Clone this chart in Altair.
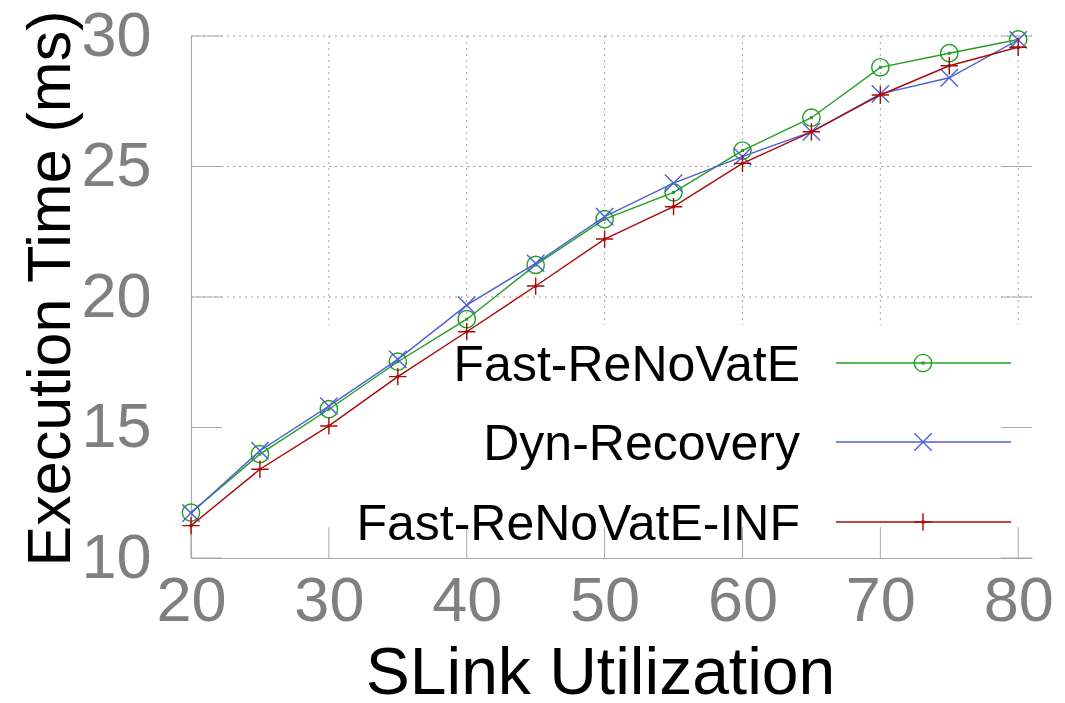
import altair as alt
import pandas as pd

# ---- data ----
x_vals = [20, 25, 30, 35, 40, 45, 50, 55, 60, 65, 70, 75, 80]
fast_renovate = [11.74, 13.98, 15.70, 17.52, 19.15, 21.23, 22.98, 24.01, 25.61, 26.87, 28.80, 29.34, 29.87]
dyn_recovery = [11.72, 14.11, 15.82, 17.61, 19.69, 21.29, 23.08, 24.36, 25.38, 26.33, 27.78, 28.40, 29.85]
fast_renovate_inf = [11.24, 13.40, 15.06, 16.95, 18.67, 20.42, 22.22, 23.46, 25.12, 26.33, 27.74, 28.86, 29.57]

series_names = ["Fast-ReNoVatE", "Dyn-Recovery", "Fast-ReNoVatE-INF"]
series_values = [fast_renovate, dyn_recovery, fast_renovate_inf]
series_colors = ["#1fa01f", "#4f5fd8", "#a80a0a"]

x_ticks = [20, 30, 40, 50, 60, 70, 80]
y_ticks = [10, 15, 20, 25, 30]
x_grid = [30, 40, 50, 60, 70, 80]
y_grid = [20, 25, 30]

# ---- layout / style ----
W, H = 841, 522
FONT = "Liberation Sans"
AXIS_GRAY = "#a8a8a8"
LABEL_GRAY = "#808080"
TICK_LEN = 31
GRID_BOTTOM = 289          # key box hides the grid below this pixel row
LEGEND_ROWS = [327, 406, 486]
LEGEND_TEXT_X = 609
LEGEND_LINE_X = (645, 820)
LEGEND_SYM_X = 732

CIRCLE = "circle"
XSHAPE = "M-1,-1L1,1M-1,1L1,-1"
PLUS = "M-1,0L1,0M0,-1L0,1"
series_shapes = [CIRCLE, XSHAPE, PLUS]
series_dot = [True, False, True]

xs = alt.Scale(domain=[20, 81], nice=False, zero=False)
ys = alt.Scale(domain=[10, 30], nice=False, zero=False)

x_axis = alt.Axis(
    values=x_ticks, title="SLink Utilization", ticks=False, grid=False,
    domainColor=AXIS_GRAY, domainWidth=1.2,
    labelFont=FONT, labelFontSize=63, labelColor=LABEL_GRAY, labelPadding=12,
    labelFlush=False, labelOverlap=False,
    titleFont=FONT, titleFontSize=66, titleFontWeight="normal", titleColor="black",
    titleX=409, titleY=135, titleBaseline="alphabetic", titleAlign="center",
)
y_axis = alt.Axis(
    values=y_ticks, title="Execution Time (ms)", ticks=False, grid=False,
    domainColor=AXIS_GRAY, domainWidth=1.2,
    labelFont=FONT, labelFontSize=63, labelColor=LABEL_GRAY, labelPadding=40,
    labelFlush=False, labelOverlap=False,
    titleFont=FONT, titleFontSize=61, titleFontWeight="normal", titleColor="black",
    titleAngle=270, titleX=-122, titleY=252, titleBaseline="alphabetic", titleAlign="center",
)


def X(field):
    return alt.X(field, scale=xs, axis=x_axis)


def Y(field):
    return alt.Y(field, scale=ys, axis=y_axis)


layers = []

# grid (dotted)
layers.append(
    alt.Chart(pd.DataFrame({"v": x_grid})).mark_rule(
        color="#a0a0a0", strokeDash=[2, 4], strokeWidth=1
    ).encode(x=X("v:Q"), y=alt.value(0), y2=alt.value(GRID_BOTTOM))
)
layers.append(
    alt.Chart(pd.DataFrame({"v": y_grid})).mark_rule(
        color="#a0a0a0", strokeDash=[2, 4], strokeWidth=1
    ).encode(y=Y("v:Q"), x=alt.value(0), x2=alt.value(W))
)

# inward ticks
layers.append(
    alt.Chart(pd.DataFrame({"v": x_ticks})).mark_rule(color=AXIS_GRAY, strokeWidth=1).encode(
        x=X("v:Q"), y=alt.value(H), y2=alt.value(H - TICK_LEN)
    )
)
layers.append(
    alt.Chart(pd.DataFrame({"v": y_ticks})).mark_rule(color=AXIS_GRAY, strokeWidth=1).encode(
        y=Y("v:Q"), x=alt.value(0), x2=alt.value(TICK_LEN)
    )
)
layers.append(
    alt.Chart(pd.DataFrame({"v": y_ticks})).mark_rule(color=AXIS_GRAY, strokeWidth=1).encode(
        y=Y("v:Q"), x=alt.value(W - TICK_LEN), x2=alt.value(W)
    )
)

# series
for i, (name, vals, col, shp, dot) in enumerate(
    zip(series_names, series_values, series_colors, series_shapes, series_dot)
):
    d = pd.DataFrame({"x": x_vals, "y": vals, "series": name})
    base = alt.Chart(d).encode(x=X("x:Q"), y=Y("y:Q"))
    layers.append(base.mark_line(color=col, strokeWidth=1.4))
    layers.append(base.mark_point(shape=shp, filled=False, size=300, strokeWidth=1.4,
                                  color=col, opacity=1))
    if dot:
        layers.append(base.mark_point(shape="square", filled=True, size=9, color=col, opacity=1))

    # legend entry
    ry = LEGEND_ROWS[i]
    ld = pd.DataFrame({"series": [name]})
    layers.append(
        alt.Chart(ld).mark_text(align="right", baseline="alphabetic", font=FONT,
                                fontSize=50, color="black").encode(
            text="series:N", x=alt.value(LEGEND_TEXT_X), y=alt.value(ry + 18)
        )
    )
    layers.append(
        alt.Chart(ld).mark_rule(color=col, strokeWidth=1.4).encode(
            x=alt.value(LEGEND_LINE_X[0]), x2=alt.value(LEGEND_LINE_X[1]), y=alt.value(ry)
        )
    )
    layers.append(
        alt.Chart(ld).mark_point(shape=shp, filled=False, size=300, strokeWidth=1.4,
                                 color=col, opacity=1).encode(
            x=alt.value(LEGEND_SYM_X), y=alt.value(ry)
        )
    )
    if dot:
        layers.append(
            alt.Chart(ld).mark_point(shape="square", filled=True, size=9, color=col, opacity=1).encode(
                x=alt.value(LEGEND_SYM_X), y=alt.value(ry)
            )
        )

chart = alt.layer(*layers).properties(
    width=W, height=H,
    autosize=alt.AutoSizeParams(type="none"),
    padding={"left": 183, "top": 28, "right": 24, "bottom": 137},
    background="white",
).configure_view(stroke=None)

chart.save("out.html", embed_options={"renderer": "svg", "actions": False})
